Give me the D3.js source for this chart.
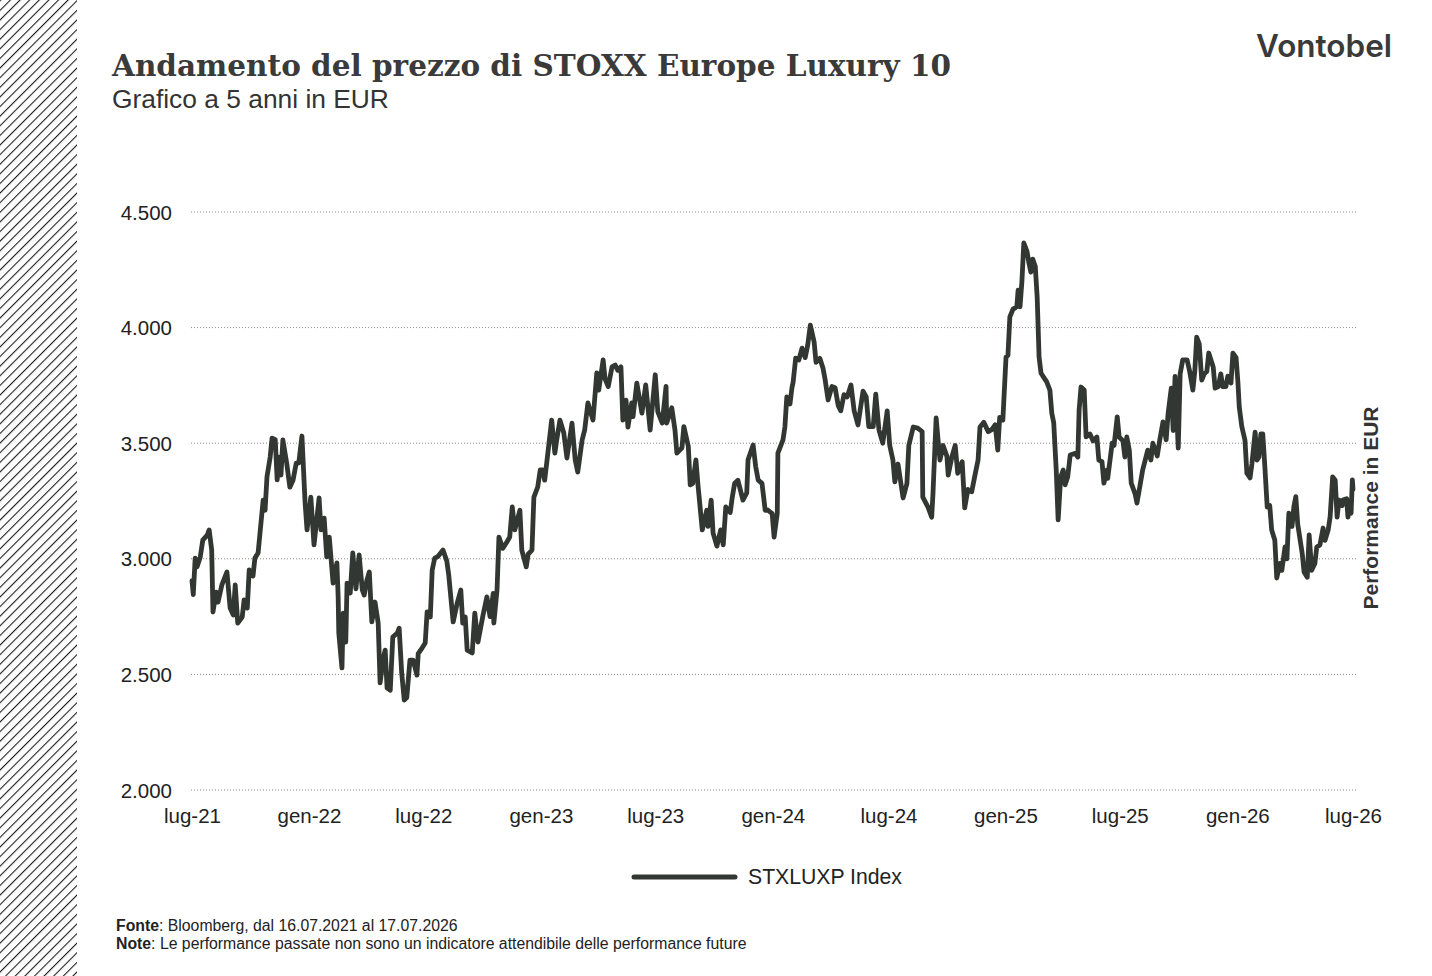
<!DOCTYPE html>
<html><head><meta charset="utf-8">
<script src="https://cdn.jsdelivr.net/npm/d3@7/dist/d3.min.js"></script>
<style>
html,body{margin:0;padding:0;background:#fff;}
svg{display:block;}
</style></head>
<body>
<svg id="chart" width="1432" height="976"></svg>
<script>
// ---------- DATA ----------
const titleText = "Andamento del prezzo di STOXX Europe Luxury 10";
const subtitleText = "Grafico a 5 anni in EUR";
const seriesName = "STXLUXP Index";
const axisTitle = "Performance in EUR";
const sourceLabel = "Fonte";
const sourceText = ": Bloomberg, dal 16.07.2021 al 17.07.2026";
const noteLabel = "Note";
const noteText = ": Le performance passate non sono un indicatore attendibile delle performance future";

const dates = [
"2021-07-16","2021-07-18","2021-07-21","2021-07-24","2021-07-29","2021-08-02","2021-08-09","2021-08-12","2021-08-16","2021-08-18",
"2021-08-23","2021-08-26","2021-09-01","2021-09-09","2021-09-14","2021-09-19","2021-09-22","2021-09-26","2021-10-03","2021-10-06",
"2021-10-11","2021-10-14","2021-10-20","2021-10-23","2021-10-28","2021-10-31","2021-11-05","2021-11-08","2021-11-11","2021-11-16",
"2021-11-19","2021-11-24","2021-11-27","2021-11-30","2021-12-03","2021-12-06","2021-12-12","2021-12-17","2021-12-22","2021-12-27",
"2021-12-31",
"2022-01-05","2022-01-10","2022-01-13","2022-01-19","2022-01-24","2022-02-01","2022-02-04","2022-02-09","2022-02-13","2022-02-17",
"2022-02-23","2022-03-01","2022-03-03","2022-03-04","2022-03-09","2022-03-11","2022-03-15","2022-03-17","2022-03-22","2022-03-26",
"2022-03-31","2022-04-05","2022-04-10","2022-04-13","2022-04-17","2022-04-21","2022-04-25","2022-04-30","2022-05-05","2022-05-08",
"2022-05-13","2022-05-16","2022-05-19","2022-05-24","2022-05-28","2022-06-04","2022-06-07","2022-06-11","2022-06-15","2022-06-19",
"2022-06-24","2022-06-29","2022-07-05","2022-07-07","2022-07-13","2022-07-18","2022-07-21","2022-07-26","2022-07-29","2022-08-02",
"2022-08-07","2022-08-15","2022-08-21","2022-08-24","2022-08-31","2022-09-06","2022-09-12","2022-09-15","2022-09-19","2022-09-22",
"2022-09-30","2022-10-04","2022-10-09","2022-10-17","2022-10-23","2022-10-28","2022-11-02","2022-11-03","2022-11-08","2022-11-11",
"2022-11-17","2022-11-24","2022-11-28","2022-12-02","2022-12-06","2022-12-14","2022-12-17","2022-12-24","2022-12-27",
"2023-01-02","2023-01-05","2023-01-11","2023-01-15","2023-01-19","2023-01-22","2023-01-27","2023-02-02","2023-02-07","2023-02-10",
"2023-02-15","2023-02-21","2023-02-26","2023-03-06","2023-03-11","2023-03-15","2023-03-22","2023-03-26","2023-03-31","2023-04-08",
"2023-04-14","2023-04-17","2023-04-24","2023-04-27","2023-05-02","2023-05-08","2023-05-13","2023-05-17","2023-05-22","2023-05-25",
"2023-05-30","2023-06-02","2023-06-08","2023-06-10","2023-06-16","2023-06-24","2023-06-30","2023-07-07","2023-07-15","2023-07-19",
"2023-07-26","2023-08-01","2023-08-02","2023-08-10","2023-08-15","2023-08-18","2023-08-26","2023-08-29","2023-09-05","2023-09-08",
"2023-09-12","2023-09-17","2023-09-20","2023-09-27","2023-10-04","2023-10-06","2023-10-11","2023-10-14","2023-10-20","2023-10-26",
"2023-10-30","2023-11-03","2023-11-10","2023-11-13","2023-11-17","2023-11-22","2023-11-30","2023-12-06","2023-12-08","2023-12-16",
"2023-12-20","2023-12-24","2023-12-30",
"2024-01-04","2024-01-08","2024-01-15","2024-01-18","2024-01-23","2024-01-24","2024-02-01","2024-02-04","2024-02-07","2024-02-12",
"2024-02-15","2024-02-17","2024-02-21","2024-02-26","2024-03-02","2024-03-07","2024-03-11","2024-03-15","2024-03-21","2024-03-24",
"2024-03-30","2024-04-04","2024-04-07","2024-04-12","2024-04-18","2024-04-23","2024-04-28","2024-05-02","2024-05-07","2024-05-12",
"2024-05-18","2024-05-23","2024-05-29","2024-06-06","2024-06-11","2024-06-15","2024-06-22","2024-06-26","2024-07-01","2024-07-07",
"2024-07-14","2024-07-18","2024-07-23","2024-07-26","2024-07-31","2024-08-08","2024-08-14","2024-08-17","2024-08-24","2024-08-31",
"2024-09-07","2024-09-08","2024-09-16","2024-09-22","2024-09-24","2024-09-29","2024-10-02","2024-10-05","2024-10-10","2024-10-16",
"2024-10-18","2024-10-24","2024-10-29","2024-11-02","2024-11-09","2024-11-13","2024-11-18","2024-11-24","2024-11-29","2024-12-04",
"2024-12-07","2024-12-13","2024-12-20","2024-12-26","2024-12-31",
"2025-01-04","2025-01-07","2025-01-12","2025-01-17","2025-01-20","2025-01-23","2025-01-28","2025-02-03","2025-02-05","2025-02-08",
"2025-02-11","2025-02-14","2025-02-19","2025-02-22","2025-02-25","2025-02-28","2025-03-04","2025-03-07","2025-03-10","2025-03-13",
"2025-03-16","2025-03-22","2025-03-27","2025-03-30","2025-04-02","2025-04-06","2025-04-09","2025-04-13","2025-04-17","2025-04-20",
"2025-04-24","2025-04-28","2025-05-06","2025-05-10","2025-05-12","2025-05-15","2025-05-20","2025-05-23","2025-05-29","2025-06-03",
"2025-06-09","2025-06-12","2025-06-17","2025-06-20","2025-06-25","2025-06-26","2025-07-03","2025-07-06","2025-07-11","2025-07-14",
"2025-07-20","2025-07-23","2025-07-26","2025-07-30","2025-08-02","2025-08-08","2025-08-11","2025-08-16","2025-08-20","2025-08-24",
"2025-08-28","2025-09-02","2025-09-05","2025-09-12","2025-09-16","2025-09-21","2025-09-26","2025-09-29","2025-10-04","2025-10-07",
"2025-10-10","2025-10-15","2025-10-18","2025-10-22","2025-10-29","2025-11-02","2025-11-07","2025-11-10","2025-11-13","2025-11-17",
"2025-11-21","2025-11-25","2025-11-29","2025-12-02","2025-12-09","2025-12-12","2025-12-17","2025-12-21","2025-12-24","2025-12-29",
"2026-01-01","2026-01-06","2026-01-09","2026-01-14","2026-01-17","2026-01-19","2026-01-23","2026-01-28","2026-01-31","2026-02-05",
"2026-02-08","2026-02-13","2026-02-16","2026-02-19","2026-02-22","2026-02-25","2026-02-28","2026-03-04","2026-03-08","2026-03-11",
"2026-03-16","2026-03-19","2026-03-24","2026-03-27","2026-04-01","2026-04-04","2026-04-07","2026-04-12","2026-04-15","2026-04-18",
"2026-04-21","2026-04-28","2026-05-01","2026-05-06","2026-05-09","2026-05-13","2026-05-18","2026-05-21","2026-05-26","2026-05-31",
"2026-06-03","2026-06-08","2026-06-11","2026-06-15","2026-06-19","2026-06-22","2026-06-25","2026-06-30","2026-07-01","2026-07-07",
"2026-07-09","2026-07-12","2026-07-14","2026-07-16","2026-07-17"
];

const values = [
2905,2845,3003,2965,3008,3081,3103,3125,3038,2770,
2856,2813,2887,2943,2787,2757,2887,2722,2748,2822,
2787,2952,2926,3003,3025,3111,3254,3210,3354,3440,
3522,3515,3341,3440,3362,3514,3414,3310,3340,3414,
3414,
3531,3241,3125,3267,3060,3263,3125,3176,3008,3094,
2895,2982,2835,2679,2528,2765,2640,2895,2852,3025,
2870,3017,2865,2843,2905,2943,2727,2813,2722,2463,
2571,2605,2441,2432,2662,2679,2700,2506,2389,2400,
2562,2562,2497,2590,2614,2636,2770,2748,2952,3003,
3010,3038,2990,2930,2727,2805,2865,2722,2748,2605,
2593,2765,2640,2757,2835,2750,2850,2722,2865,3094,
3045,3075,3094,3224,3125,3210,3038,2965,3020,
3038,3267,3310,3384,3384,3340,3457,3600,3457,3515,
3600,3545,3436,3587,3428,3375,3515,3558,3674,3600,
3804,3730,3860,3778,3745,3830,3838,3815,3830,3600,
3686,3570,3674,3615,3760,3630,3752,3557,3796,3637,
3587,3746,3587,3653,3558,3457,3480,3572,3487,3320,
3326,3428,3326,3125,3210,3140,3254,3111,3055,3125,
3060,3224,3200,3263,3327,3340,3254,3285,3428,3492,
3400,3340,3326,
3210,3211,3195,3094,3197,3457,3514,3570,3700,3670,
3738,3765,3868,3860,3911,3870,3926,4011,3938,3850,
3867,3824,3780,3687,3745,3740,3662,3640,3710,3700,
3752,3640,3579,3725,3700,3572,3572,3712,3558,3500,
3640,3490,3427,3333,3410,3263,3325,3490,3570,3565,
3550,3267,3225,3180,3280,3609,3515,3427,3490,3443,
3362,3443,3490,3370,3420,3220,3300,3290,3360,3427,
3570,3590,3550,3560,3580,
3470,3612,3600,3873,3880,4046,4080,4090,4162,4090,
4200,4366,4330,4280,4240,4296,4265,4132,3873,3804,
3790,3765,3730,3630,3590,3384,3168,3354,3384,3320,
3354,3449,3456,3440,3643,3743,3730,3527,3540,3510,
3527,3427,3420,3327,3384,3348,3500,3490,3614,3527,
3510,3440,3527,3470,3327,3282,3241,3320,3384,3427,
3470,3427,3500,3445,3515,3592,3515,3627,3738,3555,
3789,3479,3800,3860,3860,3810,3730,3810,3959,3930,
3773,3800,3810,3890,3830,3738,3745,3800,3745,3745,
3790,3760,3890,3870,3760,3657,3572,3513,3370,3350,
3412,3548,3427,3440,3540,3540,3412,3224,3230,3125,
3080,2917,2980,2950,3051,3000,3197,3140,3226,3269,
3150,3025,2943,2920,3103,2950,2980,3051,3060,3133,
3080,3125,3181,3354,3340,3180,3254,3230,3254,3260,
3180,3250,3197,3341,3300
];

const yTicks = [2000, 2500, 3000, 3500, 4000, 4500];
const xTickDates = ["2021-07-16","2022-01-16","2022-07-15","2023-01-16","2023-07-15","2024-01-16","2024-07-16","2025-01-16","2025-07-15","2026-01-16","2026-07-17"];
const xTickLabels = ["lug-21","gen-22","lug-22","gen-23","lug-23","gen-24","lug-24","gen-25","lug-25","gen-26","lug-26"];
const domainStart = "2021-07-16";
const domainEnd = "2026-07-17";
const yDomain = [2000, 4500];

// ---------- CHART ----------
const W = 1432, H = 976;
const parse = d3.utcParse("%Y-%m-%d");
const data = dates.map((d, i) => ({ date: parse(d), value: values[i] }));

const plot = { left: 192, right: 1353, top: 212, bottom: 790 };
const x = d3.scaleUtc().domain([parse(domainStart), parse(domainEnd)]).range([plot.left, plot.right]);
const y = d3.scaleLinear().domain(yDomain).range([plot.bottom, plot.top]);

const itLocale = d3.formatLocale({ decimal: ",", thousands: ".", grouping: [3], currency: ["€", ""] });
const fmt = itLocale.format(",.0f");

const svg = d3.select("#chart");
const textColor = "#222";
const sans = "'Liberation Sans', Arial, Helvetica, sans-serif";

function fitWidth(sel, baseSize, target) {
  const w = sel.node().getComputedTextLength();
  if (w > 0) sel.attr("font-size", baseSize * target / w);
}

// hatched strip on the left
const defs = svg.append("defs");
const pat = defs.append("pattern")
  .attr("id", "hatch")
  .attr("patternUnits", "userSpaceOnUse")
  .attr("width", 6.8).attr("height", 6.8)
  .attr("patternTransform", "rotate(45)");
pat.append("line")
  .attr("x1", 0).attr("y1", 0).attr("x2", 0).attr("y2", 6.8)
  .attr("stroke", "#1e1e1e").attr("stroke-width", 2.2);
svg.append("rect").attr("x", 0).attr("y", 0).attr("width", 77).attr("height", H).attr("fill", "url(#hatch)");

// title
const title = svg.append("text")
  .attr("x", 112).attr("y", 76)
  .attr("font-family", "'DejaVu Serif', Georgia, serif")
  .attr("font-weight", "bold")
  .attr("font-size", 30)
  .attr("fill", "#3a3a3a")
  .text(titleText);
title.attr("textLength", 839).attr("lengthAdjust", "spacingAndGlyphs");

const sub = svg.append("text")
  .attr("x", 112).attr("y", 108)
  .attr("font-family", sans)
  .attr("font-size", 25)
  .attr("fill", "#333")
  .text(subtitleText);
fitWidth(sub, 25, 277);

// logo
const logo = svg.append("text")
  .attr("x", 1392).attr("y", 57)
  .attr("text-anchor", "end")
  .attr("font-family", "Inter, Roboto, sans-serif")
  .attr("font-weight", 600)
  .attr("font-size", 29)
  .attr("fill", "#3a3a3a")
  .text("Vontobel");
fitWidth(logo, 29, 136);

// gridlines
svg.append("g").selectAll("line").data(yTicks).join("line")
  .attr("x1", plot.left - 1).attr("x2", plot.right + 4)
  .attr("y1", d => y(d)).attr("y2", d => y(d))
  .attr("stroke", "#8a8a8a").attr("stroke-width", 1)
  .attr("stroke-dasharray", "1,2");

// y axis (labels only)
const yAxis = d3.axisLeft(y).tickValues(yTicks).tickFormat(fmt).tickSize(0).tickPadding(0);
const gy = svg.append("g").attr("transform", `translate(${172},0)`).call(yAxis);
gy.select(".domain").remove();
gy.selectAll("text").attr("font-family", sans).attr("font-size", 20.5).attr("fill", textColor).attr("dy", "0.35em");

// x axis (labels only)
const xAxis = d3.axisBottom(x)
  .tickValues(xTickDates.map(parse))
  .tickFormat((d, i) => xTickLabels[i])
  .tickSize(0).tickPadding(0);
const gx = svg.append("g").attr("transform", `translate(0,${808})`).call(xAxis);
gx.select(".domain").remove();
gx.selectAll("text").attr("font-family", sans).attr("font-size", 20.5).attr("fill", textColor).attr("dy", "0.71em");

// right axis title
svg.append("text")
  .attr("transform", `translate(1378,${508}) rotate(-90)`)
  .attr("text-anchor", "middle")
  .attr("font-family", sans)
  .attr("font-weight", "bold")
  .attr("font-size", 21)
  .attr("fill", "#333")
  .text(axisTitle);

// line
const line = d3.line().x(d => x(d.date)).y(d => y(d.value)).curve(d3.curveLinear);
svg.append("path")
  .datum(data)
  .attr("d", line)
  .attr("fill", "none")
  .attr("stroke", "#333733")
  .attr("stroke-width", 4.8)
  .attr("stroke-linejoin", "round")
  .attr("stroke-linecap", "round");

// legend
const lg = svg.append("g");
lg.append("line").attr("x1", 634).attr("x2", 735).attr("y1", 877).attr("y2", 877)
  .attr("stroke", "#333733").attr("stroke-width", 5).attr("stroke-linecap", "round");
const lt = lg.append("text").attr("x", 748).attr("y", 884)
  .attr("font-family", sans).attr("font-size", 20).attr("fill", textColor)
  .text(seriesName);
fitWidth(lt, 20, 154);

// footer
const f1 = svg.append("text").attr("x", 116).attr("y", 931)
  .attr("font-family", sans).attr("font-size", 14.5).attr("fill", textColor);
f1.append("tspan").attr("font-weight", "bold").text(sourceLabel);
f1.append("tspan").text(sourceText);
const f2 = svg.append("text").attr("x", 116).attr("y", 949)
  .attr("font-family", sans).attr("font-size", 14.5).attr("fill", textColor);
f2.append("tspan").attr("font-weight", "bold").text(noteLabel);
f2.append("tspan").text(noteText);
const fw = f2.node().getComputedTextLength();
if (fw > 0) { const fs = 14.5 * 631 / fw; f1.attr("font-size", fs); f2.attr("font-size", fs); }
</script>
</body></html>
